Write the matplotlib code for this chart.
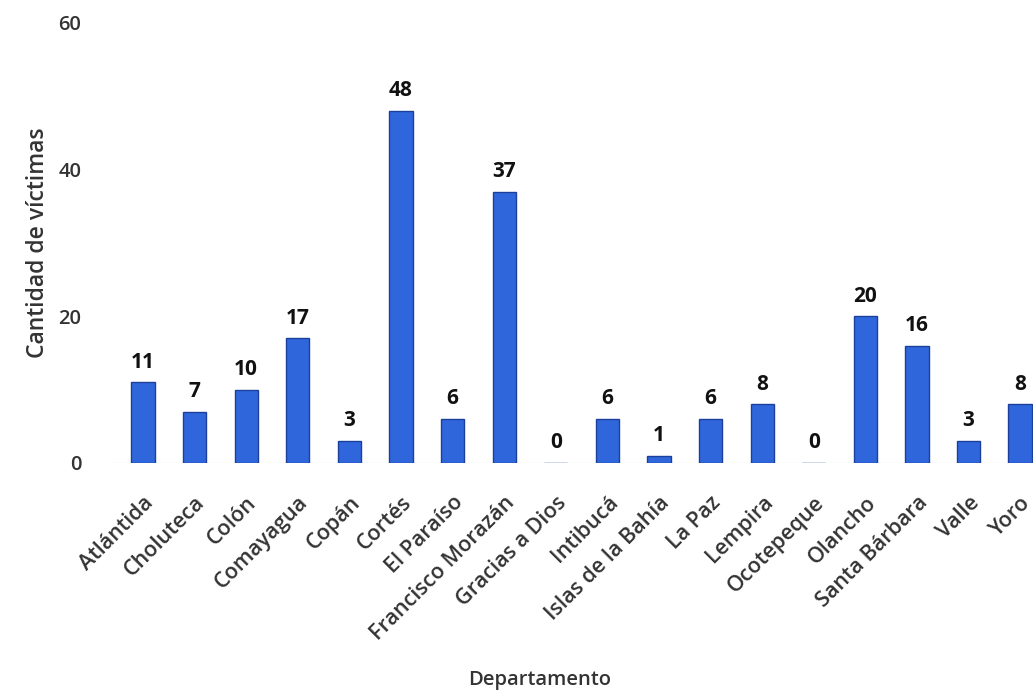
import matplotlib
matplotlib.use("Agg")
from matplotlib import pyplot as plt
import numpy as np

departamentos = ["Atlántida", "Choluteca", "Colón", "Comayagua", "Copán", "Cortés",
                 "El Paraíso", "Francisco Morazán", "Gracias a Dios", "Intibucá",
                 "Islas de la Bahía", "La Paz", "Lempira", "Ocotepeque", "Olancho",
                 "Santa Bárbara", "Valle", "Yoro"]
victimas = [11, 7, 10, 17, 3, 48, 6, 37, 0, 6, 1, 6, 8, 0, 20, 16, 3, 8]
yticks = [0, 20, 40, 60]

plt.rcParams['font.family'] = ['Open Sans', 'DejaVu Sans']

fig = plt.figure(figsize=(10.35, 6.91), dpi=100)
ax = fig.add_axes([112 / 1035, 228 / 691, 921 / 1035, 440 / 691])

x = np.arange(len(departamentos))
ax.bar(x, victimas, width=0.45, color='#2f66dc', edgecolor='#1c3f9c', linewidth=1.0, zorder=3)

for xi, v in zip(x, victimas):
    ax.text(xi, v + 1.3, str(v), ha='center', va='bottom', fontsize=15,
            fontweight='bold', color='#111111')

ax.axhline(0, color='#bbbbbb', linewidth=0.8, zorder=1)

ax.set_xlim(-0.6, 17.25)
ax.set_ylim(0, 60)
ax.set_yticks(yticks)
ax.set_yticklabels([str(t) for t in yticks], fontsize=14.5, fontweight='semibold', color='#333333')
ax.set_xticks(x)
ax.set_xticklabels(departamentos, rotation=45, ha='right', rotation_mode='anchor',
                   fontsize=15.5, fontweight='semibold', color='#333333')
ax.tick_params(axis='both', length=0)
ax.tick_params(axis='y', pad=22)
ax.tick_params(axis='x', pad=21)

for s in ax.spines.values():
    s.set_visible(False)

ax.set_ylabel("Cantidad de víctimas", fontsize=16.5, fontweight='semibold', color='#333333', labelpad=6)
fig.text(540 / 1035, 1 - 680 / 691, "Departamento", ha='center', va='center',
         fontsize=14.5, fontweight='semibold', color='#333333')

fig.savefig("out.png", dpi=100)
